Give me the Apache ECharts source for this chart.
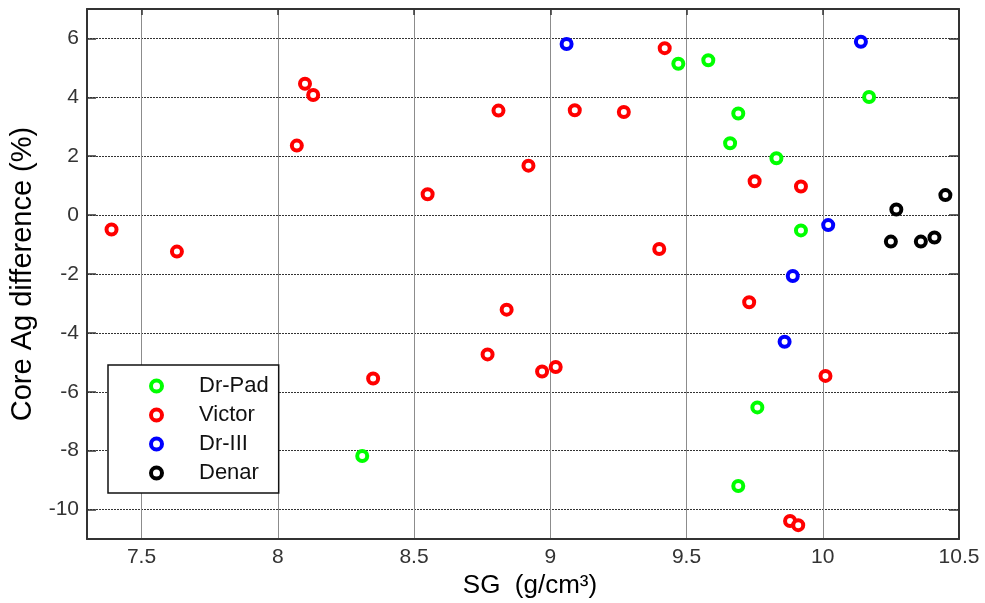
<!DOCTYPE html>
<html><head><meta charset="utf-8">
<script src="https://cdn.jsdelivr.net/npm/echarts@6/dist/echarts.min.js"></script>
<style>html,body{margin:0;padding:0;background:#fff}#c{width:985px;height:603px}</style>
</head><body><div id="c"></div>
<script>
// ---- data ----
const seriesNames = ['Dr-Pad', 'Victor', 'Dr-III', 'Denar'];
const seriesColors = ['#00ff00', '#ff0000', '#0000ff', '#000000'];

const drPadSG  = [9.47, 9.58, 9.69, 9.66, 9.83, 10.17, 9.92, 9.76, 9.69, 8.31];
const drPadAg  = [5.14, 5.26, 3.45, 2.44, 1.93, 4.01, -0.52, -6.53, -9.20, -8.18];

const victorSG = [7.39, 7.63, 8.10, 8.13, 8.07, 8.55, 8.81, 9.09, 9.27, 8.92, 9.42, 9.75,
                  9.92, 9.40, 8.84, 9.73, 8.77, 8.97, 9.02, 8.35, 10.01, 9.88, 9.91];
const victorAg = [-0.49, -1.24, 4.46, 4.08, 2.36, 0.71, 3.55, 3.56, 3.50, 1.68, 5.67, 1.15,
                  0.97, -1.15, -3.21, -2.96, -4.73, -5.31, -5.16, -5.55, -5.46, -10.39, -10.53];

const drIIISG  = [9.06, 10.14, 10.02, 9.89, 9.86];
const drIIIAg  = [5.81, 5.89, -0.34, -2.07, -4.30];

const denarSG  = [10.45, 10.27, 10.25, 10.36, 10.41];
const denarAg  = [0.68, 0.19, -0.90, -0.90, -0.76];

const xTicks = [7.5, 8, 8.5, 9, 9.5, 10, 10.5];
const yTicks = [-10, -8, -6, -4, -2, 0, 2, 4, 6];
const xTitle = 'SG  (g/cm³)';
const yTitle = 'Core Ag difference (%)';

// ---- chart ----
const sgLists = [drPadSG, victorSG, drIIISG, denarSG];
const agLists = [drPadAg, victorAg, drIIIAg, denarAg];
function zip(xs, ys) { return xs.map((x, i) => [x, ys[i]]); }

const FONT = 'Liberation Sans, Arial, sans-serif';
const chart = echarts.init(document.getElementById('c'), null, { renderer: 'canvas' });

const baseX = { type: 'value', min: 7.3, max: 10.5 };
const baseY = { type: 'value', min: -11, max: 7 };

chart.setOption({
  animation: false,
  backgroundColor: '#ffffff',
  grid: { left: 87, right: 26, top: 9, bottom: 64, containLabel: false, outerBoundsMode: 'none' },
  xAxis: [
    Object.assign({}, baseX, {
      position: 'bottom',
      name: xTitle, nameLocation: 'middle', nameGap: 28,
      nameTextStyle: { fontFamily: FONT, fontSize: 26, color: '#000', padding: [0, 0, 0, 14] },
      axisLine: { show: true, onZero: false, lineStyle: { color: '#333', width: 2 } },
      axisTick: { show: false, customValues: xTicks },
      axisLabel: { show: true, customValues: xTicks, fontFamily: FONT, fontSize: 21, color: '#333', margin: 8,
                   formatter: v => String(v) },
      splitLine: { show: true, lineStyle: { color: '#8c8c8c', width: 1, type: 'solid' } }
    }),
    Object.assign({}, baseX, {
      position: 'top',
      axisLine: { show: true, onZero: false, lineStyle: { color: '#333', width: 2 } },
      axisTick: { show: true, inside: true, length: 6, customValues: xTicks, lineStyle: { color: '#333', width: 1.5 } },
      axisLabel: { show: false },
      splitLine: { show: false }
    })
  ],
  yAxis: [
    Object.assign({}, baseY, {
      position: 'left',
      name: yTitle, nameLocation: 'middle', nameGap: 47, nameRotate: 90,
      nameTextStyle: { fontFamily: FONT, fontSize: 29, color: '#000' },
      axisLine: { show: true, onZero: false, lineStyle: { color: '#333', width: 2 } },
      axisTick: { show: true, inside: true, length: 9, customValues: yTicks, lineStyle: { color: '#333', width: 1.5 } },
      axisLabel: { show: true, customValues: yTicks, fontFamily: FONT, fontSize: 21, color: '#333', margin: 8,
                   formatter: v => String(v) },
      splitLine: { show: true, lineStyle: { color: '#333', width: 1, type: [2, 1] } }
    }),
    Object.assign({}, baseY, {
      position: 'right',
      axisLine: { show: true, onZero: false, lineStyle: { color: '#333', width: 2 } },
      axisTick: { show: true, inside: true, length: 10, customValues: yTicks, lineStyle: { color: '#333', width: 1.5 } },
      axisLabel: { show: false },
      splitLine: { show: false }
    })
  ],
  legend: {
    orient: 'vertical', left: 108, top: 365,
    icon: 'circle',
    itemWidth: 11, itemHeight: 11, itemGap: 7,
    padding: [10, 10, 9, 41],
    backgroundColor: '#fff', borderColor: '#111', borderWidth: 1.5,
    textStyle: { fontFamily: FONT, fontSize: 22, color: '#111', padding: [0, 0, 0, 32] },
    itemStyle: { borderWidth: 4 },
    selectedMode: false,
    data: seriesNames
  },
  series: seriesNames.map((n, i) => ({
    type: 'scatter',
    name: n,
    xAxisIndex: 0, yAxisIndex: 0,
    data: zip(sgLists[i], agLists[i]),
    symbol: 'circle',
    symbolSize: 10,
    itemStyle: { color: '#ffffff', borderColor: seriesColors[i], borderWidth: 4, opacity: 1 },
    emphasis: { disabled: true },
    silent: true
  }))
});
</script>
</body></html>
